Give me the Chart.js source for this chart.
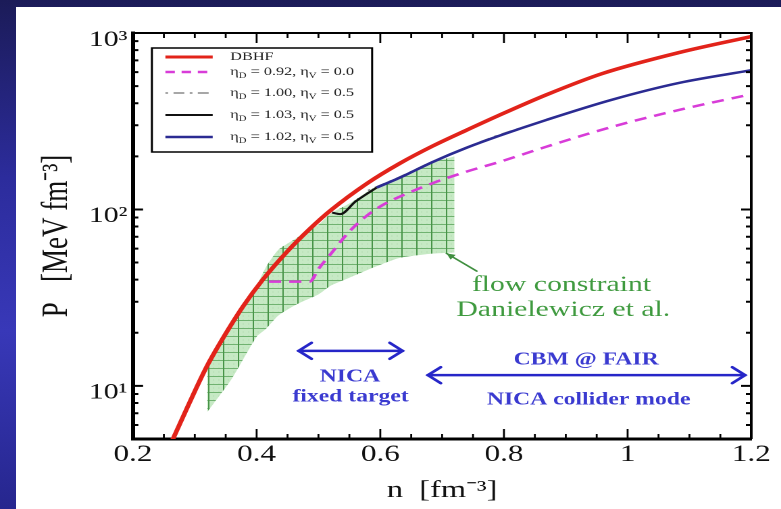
<!DOCTYPE html>
<html>
<head>
<meta charset="utf-8">
<script src="https://cdn.jsdelivr.net/npm/chart.js@4.4.1/dist/chart.umd.min.js"></script>
<style>
  html, body { margin: 0; padding: 0; }
  body {
    width: 781px; height: 509px; overflow: hidden; position: relative;
    background: linear-gradient(180deg, #1b1b58 0%, #2c2c9c 35%, #3838b8 65%, #26268e 100%);
  }
  #panel { position: absolute; left: 16px; top: 7px; right: 0; bottom: 0; background: #fff; }
  /* the source figure is stretched sideways, so the canvas is too */
  #wrap { position: absolute; left: 0; top: 0; width: 578px; height: 509px; transform: scaleX(1.3512); transform-origin: 0 0; }
</style>
</head>
<body>
<div id="panel"></div>
<div id="wrap"><canvas id="eos" width="578" height="509"></canvas></div>
<script>
"use strict";

// density n [fm^-3] and pressure P [MeV fm^-3]
const dbhfN = [0.26, 0.289, 0.32, 0.345, 0.378, 0.41, 0.449, 0.486, 0.52, 0.578, 0.631, 0.685, 0.74, 0.79, 0.869, 0.959, 1.084, 1.2];
const dbhfP = [4.6, 7.7, 13.0, 18.5, 28.2, 40, 57.5, 77.6, 99, 140, 182, 229, 282, 339, 447, 589, 776, 955];

const eta092N = [0.42, 0.486, 0.50, 0.52, 0.55, 0.578, 0.604, 0.631, 0.685, 0.74, 0.793, 0.869, 0.975, 1.084, 1.2];
const eta092P = [39, 39, 46, 56, 75, 92, 106, 118, 141, 164, 186, 227, 294, 367, 450];

const eta100N = [0.58, 0.63, 0.685, 0.74, 0.79, 0.87, 0.975, 1.084, 1.2];
const eta100P = [128, 152, 187, 225, 263, 322, 419, 522, 615];

const eta103N = [0.522, 0.535, 0.56, 0.594];
const eta103P = [96, 94, 111, 133];

const eta102N = [0.594, 0.631, 0.685, 0.74, 0.793, 0.869, 0.975, 1.084, 1.2];
const eta102P = [133, 151, 186, 224, 262, 322, 419, 522, 615];

// flow constraint band (Danielewicz et al.)
const bandN = [0.32, 0.36, 0.40, 0.415, 0.435, 0.465, 0.50, 0.52, 0.55, 0.59, 0.63, 0.68, 0.72];
const bandHigh = [12.5, 23, 37, 47, 59, 69, 82, 95, 108, 133, 152, 183, 200];
const bandLow = [7.1, 11, 19, 21, 25, 29, 33, 37, 41, 47, 53, 56, 57];

const xTicks = [0.2, 0.4, 0.6, 0.8, 1, 1.2];
const yTickLabels = { 10: "10\u00B9", 100: "10\u00B2", 1000: "10\u00B3" };

const SERIF = "'Liberation Serif', 'Times New Roman', serif";

const pts = (xs, ys) => xs.map((v, i) => ({ x: v, y: ys[i] }));

// hatched green fill of the band (pattern is in canvas units)
function makeHatch() {
	const c = document.createElement("canvas");
	c.width = 22; c.height = 16;
	const g = c.getContext("2d");
	g.fillStyle = "rgb(198,233,196)";
	g.fillRect(0, 0, 22, 16);
	g.fillStyle = "rgba(150,200,150,0.35)";
	for (let i = 7; i < 22; i += 8) for (let j = 7; j < 16; j += 8) g.fillRect(i, j, 2, 2);
	g.fillStyle = "rgb(112,178,112)";
	g.fillRect(0, 0, 22, 2);
	g.fillStyle = "rgb(72,148,72)";
	g.fillRect(0, 0, 2, 16);
	const p = g.createPattern(c, "repeat");
	p.setTransform(new DOMMatrix().scale(0.5, 0.5));
	return p;
}

const legendItems = [
	{ parts: [["DBHF", 0]], color: "#e2231a", width: 3, dash: [] },
	{ parts: [["\u03B7", 0], ["D", 1], [" = 0.92, \u03B7", 0], ["V", 1], [" = 0.0", 0]], color: "#d83cd8", width: 2.5, dash: [7, 5] },
	{ parts: [["\u03B7", 0], ["D", 1], [" = 1.00, \u03B7", 0], ["V", 1], [" = 0.5", 0]], color: "#8a8a8a", width: 1.5, dash: [2, 4, 8, 4] },
	{ parts: [["\u03B7", 0], ["D", 1], [" = 1.03, \u03B7", 0], ["V", 1], [" = 0.5", 0]], color: "#111", width: 2, dash: [] },
	{ parts: [["\u03B7", 0], ["D", 1], [" = 1.02, \u03B7", 0], ["V", 1], [" = 0.5", 0]], color: "#2b2b92", width: 2.5, dash: [] }
];

const boxLegend = {
	id: "boxLegend",
	afterDatasetsDraw(chart) {
		const { ctx, chartArea: a } = chart;
		const x0 = a.left + 14, y0 = a.top + 15, w = 163, h = 104;
		const rows = [9, 24, 45, 67, 89];
		ctx.save();
		ctx.fillStyle = "#fff";
		ctx.fillRect(x0, y0, w, h);
		ctx.strokeStyle = "#000";
		ctx.lineWidth = 1.5;
		ctx.strokeRect(x0, y0, w, h);
		legendItems.forEach((it, i) => {
			const yy = y0 + rows[i];
			ctx.strokeStyle = it.color;
			ctx.lineWidth = it.width;
			ctx.setLineDash(it.dash);
			ctx.beginPath();
			ctx.moveTo(x0 + 10, yy);
			ctx.lineTo(x0 + 45, yy);
			ctx.stroke();
			ctx.setLineDash([]);
			let tx = x0 + 58;
			ctx.fillStyle = "#222";
			ctx.textBaseline = "middle";
			ctx.textAlign = "left";
			for (const [txt, sub] of it.parts) {
				ctx.font = sub ? "8px " + SERIF : "12px " + SERIF;
				ctx.fillText(txt, tx, yy + (sub ? 4 : 0));
				tx += ctx.measureText(txt).width;
			}
		});
		ctx.restore();
	}
};

// annotations in data units (n, P)
const rangeArrows = [
	{ from: 0.468, to: 0.636, p: 15.8 },
	{ from: 0.677, to: 1.19, p: 11.5 }
];
const rangeLabels = [
	{ text: "NICA", n: 0.551, p: 11.2 },
	{ text: "fixed target", n: 0.552, p: 8.67 },
	{ text: "CBM @ FAIR", n: 0.933, p: 14.0 },
	{ text: "NICA collider mode", n: 0.937, p: 8.34 }
];
const flowLabels = [
	{ text: "flow constraint", n: 0.893, p: 37.2 },
	{ text: "Danielewicz et al.", n: 0.896, p: 26.8 }
];
const flowPointer = { n0: 0.756, p0: 44.7, n1: 0.707, p1: 56.4 };

function chevron(ctx, tx, ty, dir) {
	ctx.beginPath();
	ctx.moveTo(tx - dir * 9.5, ty - 8);
	ctx.lineTo(tx, ty);
	ctx.lineTo(tx - dir * 9.5, ty + 8);
	ctx.stroke();
}

const notes = {
	id: "notes",
	afterDatasetsDraw(chart) {
		const { ctx, scales: { x, y } } = chart;
		const X = (v) => x.getPixelForValue(v), Y = (v) => y.getPixelForValue(v);
		ctx.save();
		ctx.strokeStyle = "#2626c8";
		ctx.lineWidth = 2.5;
		ctx.lineCap = "round";
		for (const ar of rangeArrows) {
			const yy = Y(ar.p);
			ctx.beginPath();
			ctx.moveTo(X(ar.from), yy);
			ctx.lineTo(X(ar.to), yy);
			ctx.stroke();
			chevron(ctx, X(ar.from), yy, -1);
			chevron(ctx, X(ar.to), yy, 1);
		}
		ctx.textAlign = "center";
		ctx.textBaseline = "middle";
		ctx.fillStyle = "#3a3ad0";
		ctx.font = "bold 17.5px " + SERIF;
		for (const t of rangeLabels) ctx.fillText(t.text, X(t.n), Y(t.p));

		ctx.fillStyle = "#3f9a3f";
		ctx.font = "22px " + SERIF;
		for (const t of flowLabels) ctx.fillText(t.text, X(t.n), Y(t.p));

		const ax = X(flowPointer.n0), ay = Y(flowPointer.p0);
		const bx = X(flowPointer.n1), by = Y(flowPointer.p1);
		ctx.strokeStyle = "#3f8f3f";
		ctx.lineWidth = 1.5;
		ctx.beginPath();
		ctx.moveTo(ax, ay);
		ctx.lineTo(bx, by);
		ctx.stroke();
		const ang = Math.atan2(by - ay, bx - ax);
		ctx.fillStyle = "#3f8f3f";
		ctx.beginPath();
		ctx.moveTo(bx, by);
		ctx.lineTo(bx - 7 * Math.cos(ang - 0.45), by - 7 * Math.sin(ang - 0.45));
		ctx.lineTo(bx - 7 * Math.cos(ang + 0.45), by - 7 * Math.sin(ang + 0.45));
		ctx.closePath();
		ctx.fill();
		ctx.restore();
	}
};

// closed frame with inward ticks on all four sides
const frameTicks = {
	id: "frameTicks",
	afterDraw(chart) {
		const { ctx, chartArea: a, scales: { x, y } } = chart;
		ctx.save();
		ctx.strokeStyle = "#000";
		ctx.lineWidth = 2;
		ctx.beginPath();
		ctx.moveTo(a.left, a.top);
		ctx.lineTo(a.right, a.top);
		ctx.lineTo(a.right, a.bottom);
		ctx.stroke();
		ctx.lineWidth = 1.4;
		ctx.beginPath();
		for (let k = 0; k <= 20; k++) {
			const px = x.getPixelForValue(0.2 + k * 0.05);
			const len = k % 4 === 0 ? 10 : 5;
			ctx.moveTo(px, a.bottom); ctx.lineTo(px, a.bottom - len);
			ctx.moveTo(px, a.top); ctx.lineTo(px, a.top + len);
		}
		ctx.stroke();
		ctx.lineWidth = 2;
		ctx.beginPath();
		for (const dec of [1, 10, 100]) {
			for (let m = 1; m <= 9; m++) {
				const v = m * dec;
				if (v < 5 || v > 1000) continue;
				const py = y.getPixelForValue(v);
				const len = m === 1 ? 7.5 : 4;
				ctx.moveTo(a.left, py); ctx.lineTo(a.left + len, py);
				ctx.moveTo(a.right, py); ctx.lineTo(a.right - len, py);
			}
		}
		ctx.stroke();
		ctx.restore();
	}
};

const ctx = document.getElementById("eos").getContext("2d");
const hatch = makeHatch();

const line = (data, color, width, dash) => ({
	data: data, borderColor: color, borderWidth: width, borderDash: dash || [],
	pointRadius: 0, fill: false, cubicInterpolationMode: "monotone"
});

new Chart(ctx, {
	type: "line",
	data: {
		datasets: [
			line(pts(dbhfN, dbhfP), "#e2231a", 3.5),
			line(pts(eta103N, eta103P), "#111111", 2),
			line(pts(eta102N, eta102P), "#2b2b92", 2.5),
			line(pts(eta100N, eta100P), "#8a8a8a", 1.5, [2, 4, 8, 4]),
			line(pts(eta092N, eta092P), "#d83cd8", 2.5, [9, 6]),
			{ data: pts(bandN, bandHigh), borderWidth: 0, pointRadius: 0, fill: "+1", backgroundColor: hatch, tension: 0.2 },
			{ data: pts(bandN, bandLow), borderWidth: 0, pointRadius: 0, fill: false, tension: 0.2 }
		]
	},
	options: {
		responsive: false,
		animation: false,
		devicePixelRatio: 2,
		events: [],
		layout: { padding: { left: 22, top: 33, right: 22, bottom: 0 } },
		plugins: { legend: { display: false }, tooltip: { enabled: false } },
		scales: {
			x: {
				type: "linear", min: 0.2, max: 1.2,
				afterFit: (s) => { s.height = 70; },
				afterBuildTicks: (s) => { s.ticks = xTicks.map((v) => ({ value: v })); },
				border: { display: true, color: "#000", width: 3 },
				grid: { display: false, drawTicks: false },
				ticks: {
					padding: 2, color: "#111", autoSkip: false, maxRotation: 0,
					font: { family: SERIF, size: 23 },
					callback: (v) => String(Math.round(v * 10) / 10)
				},
				title: {
					display: true, text: "n  [fm\u207B\u00B3]", color: "#111",
					font: { family: SERIF, size: 24 }, padding: { top: 0, bottom: 4 }
				}
			},
			y: {
				type: "logarithmic", min: 5, max: 1000,
				afterFit: (s) => { s.width = 76.4; },
				border: { display: true, color: "#000", width: 3 },
				grid: { display: false, drawTicks: false },
				ticks: {
					padding: 4, color: "#111", autoSkip: false, labelOffset: 7,
					font: { family: SERIF, size: 22 },
					callback: (v) => yTickLabels[v] || null
				},
				title: {
					display: true, text: "P   [MeV fm\u207B\u00B3]", color: "#111",
					font: { family: SERIF, size: 27 }, padding: { top: 4, bottom: 0 }
				}
			}
		}
	},
	plugins: [frameTicks, notes, boxLegend]
});
</script>
</body>
</html>
